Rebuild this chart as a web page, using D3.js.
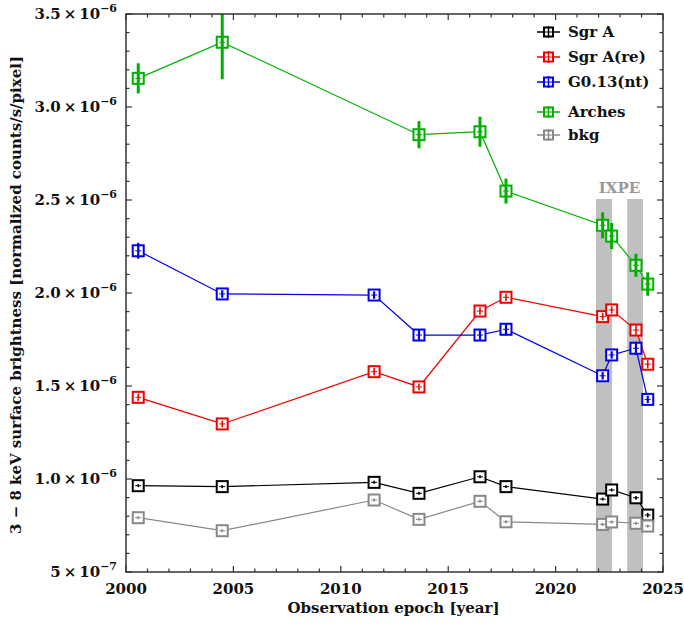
<!DOCTYPE html>
<html>
<head>
<meta charset="utf-8">
<script src="https://cdn.jsdelivr.net/npm/d3@7"></script>
<style>
  html, body { margin: 0; padding: 0; background: #fff; }
  svg { display: block; }
  text { font-family: "DejaVu Serif", serif; font-weight: bold; fill: #111; }
</style>
</head>
<body>
<svg id="chart" width="684" height="626"></svg>
<script>
// ---------------- DATA ----------------
const epochs = [2000.57, 2004.48, 2011.55, 2013.64, 2016.48, 2017.69, 2022.19, 2022.61, 2023.74, 2024.29];
const archesEpochs = [2000.57, 2004.48, 2013.64, 2016.48, 2017.69, 2022.19, 2022.61, 2023.74, 2024.29];

// values in units of 1e-6
const sgrA      = [0.964, 0.959, 0.982, 0.923, 1.012, 0.959, 0.892, 0.941, 0.899, 0.806];
const sgrAErr   = [0.008, 0.008, 0.008, 0.008, 0.008, 0.008, 0.008, 0.008, 0.010, 0.012];
const sgrAre    = [1.439, 1.296, 1.577, 1.495, 1.903, 1.977, 1.873, 1.909, 1.801, 1.617];
const sgrAreErr = [0.020, 0.018, 0.020, 0.018, 0.020, 0.020, 0.020, 0.020, 0.025, 0.022];
const g013      = [2.227, 1.995, 1.989, 1.774, 1.774, 1.805, 1.555, 1.667, 1.703, 1.428];
const g013Err   = [0.043, 0.020, 0.020, 0.030, 0.025, 0.027, 0.020, 0.020, 0.036, 0.020];
const arches    = [3.154, 3.348, 2.851, 2.867, 2.548, 2.364, 2.306, 2.149, 2.048];
const archesErr = [0.081, 0.199, 0.073, 0.081, 0.067, 0.070, 0.070, 0.062, 0.063];
const bkg       = [0.792, 0.722, 0.887, 0.783, 0.880, 0.770, 0.756, 0.769, 0.762, 0.747];
const bkgErr    = [0.008, 0.008, 0.008, 0.008, 0.008, 0.008, 0.008, 0.008, 0.008, 0.008];

const seriesNames  = ["Sgr A", "Sgr A(re)", "G0.13(nt)", "Arches", "bkg"];
const seriesColors = ["#000000", "#ee0000", "#0000ee", "#00b000", "#888888"];

const ixpeBands = [[2021.88, 2022.63], [2023.33, 2024.07]];
const ixpeLabel = "IXPE";

const xDomain = [2000, 2025];
const yDomain = [0.5, 3.5];
const xTicks = [2000, 2005, 2010, 2015, 2020, 2025];
const yTicks = [0.5, 1.0, 1.5, 2.0, 2.5, 3.0, 3.5];
const yTickMantissa = ["5", "1.0", "1.5", "2.0", "2.5", "3.0", "3.5"];
const yTickExp = ["−7", "−6", "−6", "−6", "−6", "−6", "−6"];

const xLabel = "Observation epoch [year]";
const yLabel = "3 − 8 keV surface brightness [normalized counts/s/pixel]";

// ---------------- LAYOUT ----------------
const svg = d3.select("#chart");
const L = 126, R = 663, T = 14, B = 572;
const x = d3.scaleLinear().domain(xDomain).range([L, R]);
const y = d3.scaleLinear().domain(yDomain).range([B, T]);

const series = [
  { name: seriesNames[0], color: seriesColors[0], xs: epochs, v: sgrA, e: sgrAErr, ew: 1.6 },
  { name: seriesNames[1], color: seriesColors[1], xs: epochs, v: sgrAre, e: sgrAreErr, ew: 1.6 },
  { name: seriesNames[2], color: seriesColors[2], xs: epochs, v: g013, e: g013Err, ew: 2.2 },
  { name: seriesNames[3], color: seriesColors[3], xs: archesEpochs, v: arches, e: archesErr, ew: 3 },
  { name: seriesNames[4], color: seriesColors[4], xs: epochs, v: bkg, e: bkgErr, ew: 1.6 }
];

svg.append("defs").append("clipPath").attr("id", "clip")
  .append("rect").attr("x", L).attr("y", T).attr("width", R - L).attr("height", B - T);

// IXPE bands
svg.append("g").selectAll("rect").data(ixpeBands).join("rect")
  .attr("x", d => x(d[0])).attr("width", d => x(d[1]) - x(d[0]))
  .attr("y", y(2.5) - 1).attr("height", d => B - y(2.5) + 1)
  .attr("fill", "#c0c0c0");
svg.append("text")
  .attr("x", (x(ixpeBands[0][0]) + x(ixpeBands[1][1])) / 2)
  .attr("y", y(2.5) - 7)
  .attr("text-anchor", "middle")
  .style("fill", "#999")
  .style("font-size", "15px")
  .text(ixpeLabel);

// series
const plot = svg.append("g").attr("clip-path", "url(#clip)");
const sq = 11;
series.forEach(s => {
  const pts = s.xs.map((xv, i) => ({ x: xv, v: s.v[i], e: s.e[i] }));
  plot.append("path").datum(pts)
    .attr("d", d3.line().x(d => x(d.x)).y(d => y(d.v)))
    .attr("fill", "none").attr("stroke", s.color).attr("stroke-width", 1.2);
  const g = plot.append("g");
  g.selectAll("rect").data(pts).join("rect")
    .attr("x", d => x(d.x) - sq / 2).attr("y", d => y(d.v) - sq / 2)
    .attr("width", sq).attr("height", sq)
    .attr("fill", "#fff").attr("stroke", s.color).attr("stroke-width", 2);
  g.selectAll("line.ev").data(pts).join("line").attr("class", "ev")
    .attr("x1", d => x(d.x)).attr("x2", d => x(d.x))
    .attr("y1", d => y(d.v + d.e)).attr("y2", d => y(d.v - d.e))
    .attr("stroke", s.color).attr("stroke-width", s.ew);
  g.selectAll("line.eh").data(pts).join("line").attr("class", "eh")
    .attr("x1", d => x(d.x) - 3).attr("x2", d => x(d.x) + 3)
    .attr("y1", d => y(d.v)).attr("y2", d => y(d.v))
    .attr("stroke", s.color).attr("stroke-width", 1);
});

// frame and ticks
const axisColor = "#333";
const axG = svg.append("g");
axG.append("rect").attr("x", L).attr("y", T).attr("width", R - L).attr("height", B - T)
  .attr("fill", "none").attr("stroke", axisColor).attr("stroke-width", 1.5);

const xMinor = d3.range(xDomain[0], xDomain[1] + 0.001, 1);
const yMinor = d3.range(yDomain[0], yDomain[1] + 0.001, 0.1);
const tickMaj = 6, tickMin = 3.5;
xMinor.forEach(v => {
  const len = xTicks.includes(Math.round(v)) ? tickMaj : tickMin;
  axG.append("line").attr("x1", x(v)).attr("x2", x(v)).attr("y1", B).attr("y2", B - len)
    .attr("stroke", axisColor).attr("stroke-width", 1.2);
  axG.append("line").attr("x1", x(v)).attr("x2", x(v)).attr("y1", T).attr("y2", T + len)
    .attr("stroke", axisColor).attr("stroke-width", 1.2);
});
yMinor.forEach(v => {
  const isMaj = yTicks.some(t => Math.abs(t - v) < 1e-6);
  const len = isMaj ? tickMaj : tickMin;
  axG.append("line").attr("y1", y(v)).attr("y2", y(v)).attr("x1", L).attr("x2", L + len)
    .attr("stroke", axisColor).attr("stroke-width", 1.2);
  axG.append("line").attr("y1", y(v)).attr("y2", y(v)).attr("x1", R).attr("x2", R - len)
    .attr("stroke", axisColor).attr("stroke-width", 1.2);
});

// x tick labels
svg.append("g").selectAll("text").data(xTicks).join("text")
  .attr("x", d => x(d)).attr("y", B + 22)
  .attr("text-anchor", "middle").style("font-size", "15px")
  .text(d => d);

// y tick labels
const yl = svg.append("g");
yTicks.forEach((t, i) => {
  const tx = yl.append("text").attr("x", L - 9).attr("y", y(t) + 5)
    .attr("text-anchor", "end").style("font-size", "15px");
  tx.append("tspan").text(yTickMantissa[i] + "\u2009×\u200910");
  tx.append("tspan").attr("dy", -7).style("font-size", "11px").text(yTickExp[i]);
});

// axis labels
svg.append("text").attr("x", (L + R) / 2 - 1).attr("y", 613)
  .attr("text-anchor", "middle").style("font-size", "15px").text(xLabel);
svg.append("text")
  .attr("transform", `translate(21, 295) rotate(-90)`)
  .attr("text-anchor", "middle").style("font-size", "15px").text(yLabel);

// legend
const legY = [32, 57, 82, 112, 135];
const lg = svg.append("g");
series.forEach((s, i) => {
  const cy = legY[i];
  lg.append("line").attr("x1", 537).attr("x2", 560).attr("y1", cy).attr("y2", cy)
    .attr("stroke", s.color).attr("stroke-width", 1.5);
  lg.append("rect").attr("x", 548.5 - 4.5).attr("y", cy - 4.5).attr("width", 9).attr("height", 9)
    .attr("fill", "#fff").attr("stroke", s.color).attr("stroke-width", 2);
  lg.append("line").attr("x1", 548.5).attr("x2", 548.5).attr("y1", cy - 6).attr("y2", cy + 6)
    .attr("stroke", s.color).attr("stroke-width", 1.5);
  lg.append("line").attr("x1", 544).attr("x2", 553).attr("y1", cy).attr("y2", cy)
    .attr("stroke", s.color).attr("stroke-width", 1);
  lg.append("text").attr("x", 568).attr("y", cy + 5).style("font-size", "15px").text(s.name);
});
</script>
</body>
</html>
